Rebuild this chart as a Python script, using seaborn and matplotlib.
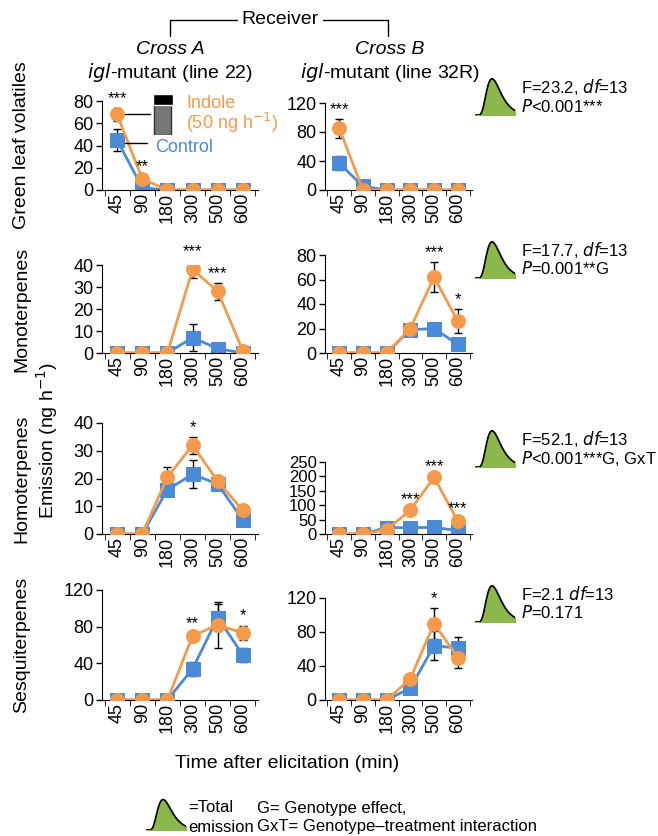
import numpy as np
import pandas as pd
import matplotlib
matplotlib.use("Agg")
import matplotlib.pyplot as plt
import seaborn as sns

sns.set_style("ticks")
plt.rcParams['font.family'] = ['Liberation Sans', 'DejaVu Sans']
plt.rcParams['font.size'] = 13
plt.rcParams['text.color'] = 'black'
plt.rcParams['xtick.color'] = 'black'
plt.rcParams['ytick.color'] = 'black'
plt.rcParams['axes.edgecolor'] = 'black'

times = ["45", "90", "180", "300", "500", "600"]
ORANGE = "#f59a4a"
BLUE = "#4a8ad6"

# (indole, indole_err, control, control_err) per panel
glv_a = ([68, 10, 0, 0, 0, 0], [6, 3, 0, 0, 0, 0], [45, 2, 0, 0, 0, 0], [10, 1, 0, 0, 0, 0])
glv_b = ([85, 0, 0, 0, 0, 0], [13, 0, 0, 0, 0, 0], [37, 5, 0, 0, 0, 0], [10, 1, 0, 0, 0, 0])
mono_a = ([0, 0, 0, 38, 28, 1], [0, 0, 0, 4, 4, 1], [0, 0, 0, 7, 2, 0], [0, 0, 0, 6, 1, 0])
mono_b = ([0, 0, 0, 20, 62, 26], [0, 0, 0, 3, 12, 10], [0, 0, 0, 19, 20, 7], [0, 0, 0, 4, 3, 1])
homo_a = ([0, 0, 20.5, 32, 19, 8.5], [0, 0, 3.5, 3, 1.5, 2], [0, 0, 16, 21.5, 18, 5], [0, 0, 1, 5, 1, 1.5])
homo_b = ([0, 0, 15, 83, 197, 45], [0, 0, 3, 5, 5, 12], [0, 0, 22, 22, 23, 12], [0, 0, 3, 3, 3, 2])
sesq_a = ([0, 0, 0, 70, 82, 73], [0, 0, 0, 3, 25, 8], [0, 0, 0, 34, 90, 49], [0, 0, 0, 8, 15, 8])
sesq_b = ([0, 0, 0, 25, 90, 50], [0, 0, 0, 6, 18, 12], [0, 0, 0, 14, 64, 61], [0, 0, 0, 3, 17, 13])

panels = [
    (glv_a, (0, 80), [0, 20, 40, 60, 80], {0: "***", 1: "**"}),
    (glv_b, (0, 120), [0, 40, 80, 120], {0: "***"}),
    (mono_a, (0, 40), [0, 10, 20, 30, 40], {3: "***", 4: "***"}),
    (mono_b, (0, 80), [0, 20, 40, 60, 80], {4: "***", 5: "*"}),
    (homo_a, (0, 40), [0, 10, 20, 30, 40], {3: "*"}),
    (homo_b, (0, 250), [0, 50, 100, 150, 200, 250], {3: "***", 4: "***", 5: "***"}),
    (sesq_a, (0, 120), [0, 40, 80, 120], {3: "**", 5: "*"}),
    (sesq_b, (0, 120), [0, 40, 80, 120], {4: "*"}),
]
row_labels = ["Green leaf volatiles", "Monoterpenes", "Homoterpenes", "Sesquiterpenes"]
stats = [("F=23.2, ", "$\\it{df}$=13", "$\\it{P}$<0.001***"),
         ("F=17.7, ", "$\\it{df}$=13", "$\\it{P}$=0.001**G"),
         ("F=52.1, ", "$\\it{df}$=13", "$\\it{P}$<0.001***G, GxT"),
         ("F=2.1 ", "$\\it{df}$=13", "$\\it{P}$=0.171")]

W, H = 658, 836
fig = plt.figure(figsize=(W / 100, H / 100), dpi=100)

def px(x0, y0, x1, y1):
    return [x0 / W, 1 - y1 / H, (x1 - x0) / W, (y1 - y0) / H]

rows_y = [(101, 190), (265, 353), (423, 534), (590, 700)]
right_top = [103, 255, 462, 598]
cols_x = [(102, 258), (325, 472)]

def bump():
    t = np.linspace(0, 1, 100)
    curve = np.exp(-(np.log(t + 1e-6) - np.log(0.3)) ** 2 / 0.35) * t ** 2
    return t, curve

for i, (data, ylim, yt, stars) in enumerate(panels):
    r, c = divmod(i, 2)
    y0, y1 = rows_y[r]
    if c == 1:
        y0 = right_top[r]
    ax = fig.add_axes(px(cols_x[c][0], y0, cols_x[c][1], y1))
    ind, ind_e, ctl, ctl_e = data
    x = np.arange(6)
    df = pd.DataFrame({"x": np.concatenate([x, x]), "y": ind + ctl,
                       "g": ["Indole"] * 6 + ["Control"] * 6})
    ax.errorbar(x, ctl, yerr=ctl_e, fmt="none", ecolor="black", capsize=3, lw=1, zorder=1)
    ax.errorbar(x, ind, yerr=ind_e, fmt="none", ecolor="black", capsize=3, lw=1, zorder=1)
    sns.lineplot(data=df[df.g == "Control"], x="x", y="y", color=BLUE, marker="s",
                 markersize=10, markeredgecolor=BLUE, lw=2, ax=ax, zorder=2)
    sns.lineplot(data=df[df.g == "Indole"], x="x", y="y", color=ORANGE, marker="o",
                 markersize=10, markeredgecolor=ORANGE, lw=2, ax=ax, zorder=3)
    for k, s in stars.items():
        top = max(ind[k] + ind_e[k], ctl[k] + ctl_e[k])
        ax.text(k, top + (ylim[1] * 0.02), s, ha="center", va="bottom", fontsize=12)
    ax.set_xlim(-0.6, 5.6)
    ax.set_ylim(ylim)
    ax.set_yticks(yt)
    ax.set_xticks(x)
    ax.set_xticklabels(times, rotation=90)
    ax.tick_params(labelsize=13, length=4, width=1, pad=2)
    if ylim[1] == 250:
        ax.tick_params(axis="y", labelsize=12)
    ax.set_xticks(np.arange(-0.5, 6, 1), minor=True)
    ax.tick_params(axis="x", which="major", length=0)
    ax.tick_params(axis="x", which="minor", length=4)
    ax.set_xlabel("")
    ax.set_ylabel("")
    sns.despine(ax=ax)
    if c == 0:
        fig.text(22 / W, 1 - (y0 + y1) / 2 / H, row_labels[r], rotation=90,
                 ha="center", va="center", fontsize=14)

    if c == 1:
        # total emission icon
        yc = [95, 258, 447, 602][r]
        iax = fig.add_axes(px(475, yc - 18, 515, yc + 20))
        t, curve = bump()
        iax.fill_between(t, curve, color="#8ab84a")
        iax.plot(t, curve, color="black", lw=1.2)
        iax.set_xlim(0, 1)
        iax.set_ylim(0, curve.max() * 1.05)
        iax.axis("off")
        f, d, p = stats[r]
        fig.text(521 / W, 1 - (yc - 8) / H, f + d, fontsize=12, va="center")
        fig.text(521 / W, 1 - (yc + 11) / H, p, fontsize=12, va="center")

fig.text(47 / W, 1 - 440 / H, "Emission (ng h$^{-1}$)", rotation=90, ha="center",
         va="center", fontsize=14)
fig.text(287 / W, 1 - 763 / H, "Time after elicitation (min)", ha="center", va="center",
         fontsize=14)

# header
fig.text(280 / W, 1 - 20 / H, "Receiver", ha="center", va="center", fontsize=14)
fig.add_artist(plt.Line2D([170 / W, 170 / W, 237 / W], [1 - 36 / H, 1 - 20 / H, 1 - 20 / H],
                          color="black", lw=1))
fig.add_artist(plt.Line2D([323 / W, 388 / W, 388 / W], [1 - 20 / H, 1 - 20 / H, 1 - 36 / H],
                          color="black", lw=1))
fig.text(170 / W, 1 - 50 / H, "Cross A", style="italic", ha="center", va="center", fontsize=14)
fig.text(390 / W, 1 - 50 / H, "Cross B", style="italic", ha="center", va="center", fontsize=14)
fig.text(170 / W, 1 - 72 / H, "$\\it{igl}$-mutant (line 22)", ha="center", va="center", fontsize=14)
fig.text(390 / W, 1 - 72 / H, "$\\it{igl}$-mutant (line 32R)", ha="center", va="center", fontsize=14)

# legend annotations in first panel
fig.text(186 / W, 1 - 103 / H, "Indole", color=ORANGE, fontsize=13, va="center")
fig.text(186 / W, 1 - 123 / H, "(50 ng h$^{-1}$)", color=ORANGE, fontsize=13, va="center")
fig.text(155 / W, 1 - 148 / H, "Control", color=BLUE, fontsize=13, va="center")
fig.add_artist(plt.Line2D([125 / W, 150 / W], [1 - 114 / H, 1 - 114 / H], color="black", lw=1))
fig.add_artist(plt.Line2D([125 / W, 147 / W], [1 - 143 / H, 1 - 143 / H], color="black", lw=1))
vax = fig.add_axes(px(150, 92, 175, 135))
vax.add_patch(plt.Rectangle((0.15, 0.0), 0.7, 0.7, facecolor="#777777", edgecolor="#333333"))
vax.add_patch(plt.Rectangle((0.1, 0.7), 0.8, 0.25, facecolor="black"))
vax.set_xlim(0, 1)
vax.set_ylim(0, 1)
vax.axis("off")

# bottom key
kax = fig.add_axes(px(146, 798, 186, 830))
t, curve = bump()
kax.fill_between(t, curve, color="#8ab84a")
kax.plot(t, curve, color="black", lw=1.2)
kax.set_xlim(0, 1)
kax.set_ylim(0, curve.max() * 1.05)
kax.axis("off")
fig.text(188 / W, 1 - 808 / H, "=Total", fontsize=12, va="center")
fig.text(188 / W, 1 - 827 / H, "emission", fontsize=12, va="center")
fig.text(257 / W, 1 - 808 / H, "G= Genotype effect,", fontsize=12, va="center")
fig.text(257 / W, 1 - 827 / H, "GxT= Genotype\u2013treatment interaction", fontsize=12, va="center")

fig.savefig("out.png", dpi=100)
